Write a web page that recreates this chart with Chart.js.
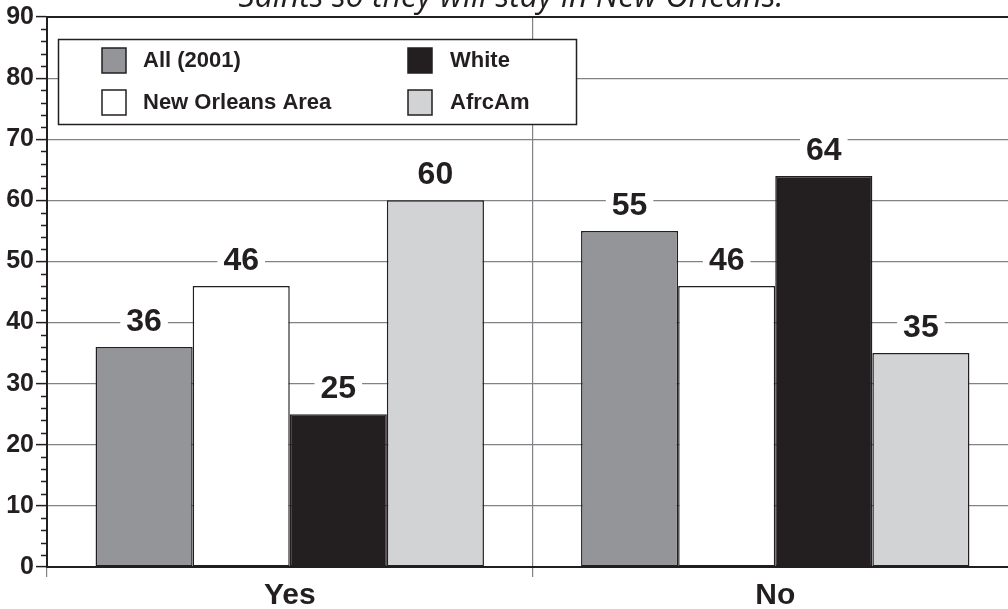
<!DOCTYPE html>
<html>
<head>
<meta charset="utf-8">
<script src="https://cdn.jsdelivr.net/npm/chart.js@4.4.1/dist/chart.umd.min.js"></script>
<style>
html,body{margin:0;padding:0;background:#fff;overflow:hidden;}
#wrap{width:1008px;height:609px;position:relative;overflow:hidden;}
</style>
</head>
<body>
<div id="wrap"><canvas id="c" width="1018" height="609"></canvas></div>
<script>
// ---- data ----
const categories = ["Yes", "No"];
const seriesNames = ["All (2001)", "New Orleans Area", "White", "AfrcAm"];
const allValues = [36, 55];
const newOrleansValues = [46, 46];
const whiteValues = [25, 64];
const afrcAmValues = [60, 35];
const yTicks = [0, 10, 20, 30, 40, 50, 60, 70, 80, 90];
const titleText = "Saints so they will stay in New Orleans.";

const DARK = "#231f20";
const GRID = "#808285";
const FONT = "'Liberation Sans', Arial, sans-serif";
const colors = ["#939598", "#ffffff", "#231f20", "#d1d3d4"];
const seriesValues = [allValues, newOrleansValues, whiteValues, afrcAmValues];

const datasets = seriesNames.map((n, i) => ({
  label: n,
  data: seriesValues[i],
  backgroundColor: colors[i],
  borderColor: DARK,
  borderWidth: 1.5,
  borderSkipped: false,
  categoryPercentage: 0.80,
  barPercentage: 1.0
}));

const titlePlugin = {
  id: "cutTitle",
  afterDraw(chart) {
    const ctx = chart.ctx;
    ctx.save();
    ctx.font = "italic 32px 'Open Sans'";
    ctx.fillStyle = DARK;
    ctx.textAlign = "center";
    ctx.textBaseline = "alphabetic";
    ctx.fillText(titleText, 511, 7);
    ctx.restore();
  }
};

const framePlugin = {
  id: "frame",
  afterDatasetsDraw(chart) {
    const ctx = chart.ctx;
    const a = chart.chartArea;
    const y = chart.scales.y;
    ctx.save();
    ctx.strokeStyle = DARK;
    ctx.lineWidth = 2;
    ctx.beginPath();
    ctx.moveTo(a.left, a.top);
    ctx.lineTo(a.right, a.top);
    ctx.stroke();
    ctx.lineWidth = 1.5;
    ctx.beginPath();
    for (let v = 0; v <= 90; v += 2) {
      if (v % 10 === 0) continue;
      const py = Math.round(y.getPixelForValue(v)) + 0.5;
      ctx.moveTo(a.left - 6, py);
      ctx.lineTo(a.left, py);
    }
    ctx.stroke();
    ctx.restore();
  }
};

const labelPlugin = {
  id: "valueLabels",
  afterDatasetsDraw(chart) {
    const ctx = chart.ctx;
    ctx.save();
    ctx.font = "bold 32px " + FONT;
    ctx.textAlign = "center";
    ctx.textBaseline = "middle";
    chart.data.datasets.forEach((ds, di) => {
      const meta = chart.getDatasetMeta(di);
      meta.data.forEach((el, i) => {
        const txt = String(ds.data[i]);
        const cy = el.y - 26;
        const w = ctx.measureText(txt).width;
        ctx.fillStyle = "#ffffff";
        ctx.fillRect(el.x - w / 2 - 6, cy - 13, w + 12, 26);
        ctx.fillStyle = DARK;
        ctx.fillText(txt, el.x, cy + 1);
      });
    });
    ctx.restore();
  }
};

const legendPlugin = {
  id: "boxLegend",
  afterDraw(chart) {
    const ctx = chart.ctx;
    const bx = 58, by = 39, bw = 518, bh = 85;
    ctx.save();
    ctx.fillStyle = "#ffffff";
    ctx.fillRect(bx, by, bw, bh);
    ctx.strokeStyle = DARK;
    ctx.lineWidth = 1.5;
    ctx.strokeRect(bx + 0.5, by + 0.5, bw, bh);
    ctx.font = "bold 22px " + FONT;
    ctx.textBaseline = "middle";
    ctx.textAlign = "left";
    chart.data.datasets.forEach((ds, i) => {
      const col = Math.floor(i / 2), row = i % 2;
      const sx = col === 0 ? 102 : 408;
      const tx = col === 0 ? 143 : 450;
      const cy = row === 0 ? 60 : 102;
      ctx.fillStyle = ds.backgroundColor;
      ctx.fillRect(sx, cy - 12, 24, 25);
      ctx.strokeStyle = DARK;
      ctx.lineWidth = 1.5;
      ctx.strokeRect(sx, cy - 12, 24, 25);
      ctx.fillStyle = DARK;
      ctx.fillText(ds.label, tx, cy + 1);
    });
    ctx.restore();
  }
};

new Chart(document.getElementById("c"), {
  type: "bar",
  data: { labels: categories, datasets },
  options: {
    responsive: false,
    animation: false,
    layout: { padding: { top: 16, right: 0, left: 0, bottom: 0 } },
    plugins: { legend: { display: false }, tooltip: { enabled: false }, title: { display: false } },
    scales: {
      x: {
        grid: { offset: true, color: GRID, lineWidth: 1.2, tickLength: 10, drawOnChartArea: true },
        border: { color: DARK, width: 2 },
        ticks: { color: DARK, font: { family: FONT, size: 30, weight: "bold" }, padding: 1 },
        afterFit(s) { s.height = 42; }
      },
      y: {
        min: 0, max: 90,
        afterBuildTicks(s) { s.ticks = yTicks.map(v => ({ value: v })); },
        grid: { color: GRID, lineWidth: 1.2, tickLength: 11, tickColor: DARK, tickWidth: 1.5 },
        border: { color: DARK, width: 2 },
        ticks: { color: DARK, font: { family: FONT, size: 25, weight: "bold" }, padding: 2 },
        afterFit(s) { s.width = 47; }
      }
    }
  },
  plugins: [titlePlugin, framePlugin, labelPlugin, legendPlugin]
});
</script>
</body>
</html>
